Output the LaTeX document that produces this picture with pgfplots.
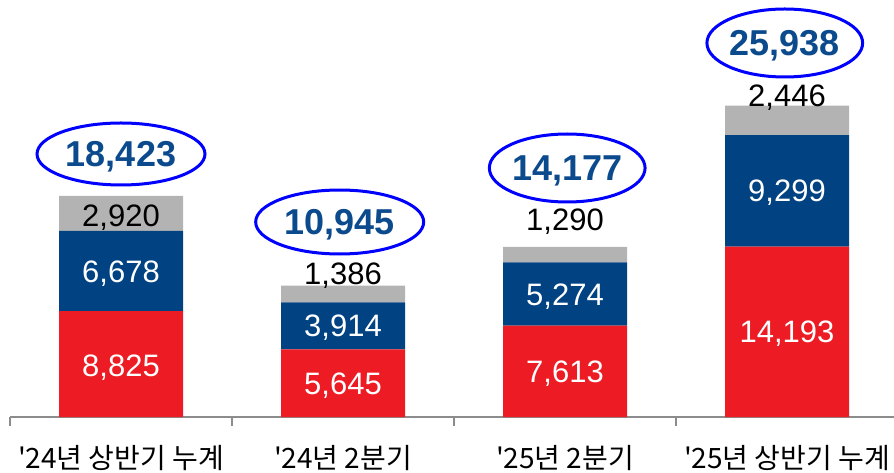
\documentclass[border=0pt]{standalone}
\usepackage{fontspec}
\setmainfont{Liberation Sans}
\newfontfamily\cjk[Ligatures=TeXOff]{Noto Sans CJK KR}
\usepackage{pgfplots}
\pgfplotsset{compat=1.18}
\usetikzlibrary{shapes.geometric}
\definecolor{cred}{HTML}{ED1C24}
\definecolor{cnavy}{HTML}{004282}
\definecolor{cgray}{HTML}{B3B3B3}
\definecolor{ctot}{HTML}{0B4A8C}
\definecolor{cax}{HTML}{8C8C8C}
\tikzset{
  lab/.style={font=\fontsize{31}{31}\selectfont, inner sep=0pt, text height=22pt, text depth=0pt, anchor=center},
  tot/.style={draw=blue, line width=3pt, ellipse, inner sep=0pt, text=ctot,
     font=\bfseries\fontsize{36}{36}\selectfont, text height=26pt, text depth=0pt},
}
\pgfplotsset{
  base/.style={
    at={(10pt,55pt)}, anchor=south west,
    scale only axis, width=888pt, height=417pt,
    xmin=-0.5, xmax=3.5, ymin=0, ymax=34750, clip=false,
  }
}
\begin{document}
\begin{tikzpicture}
\begin{axis}[
  base,
  ybar stacked, bar width=124pt,
  axis x line=bottom, axis y line=none,
  axis line style={draw=cax, line width=1.5pt, -},
  xtick={0,1,2,3},
  xticklabels={{'24년 상반기 누계},{'24년 2분기},{'25년 2분기},{'25년 상반기 누계}},
  major tick length=0pt,
  minor xtick={-0.5,0.5,1.5,2.5,3.5}, minor tick length=9pt, tick align=outside,
  minor tick style={draw=cax, line width=1.2pt},
  xticklabel style={font=\cjk\fontsize{28}{28}\selectfont, yshift=-25pt},
]
\addplot[fill=cred, draw=none] coordinates {(0,8825) (1,5645) (2,7613) (3,14193)};
\addplot[fill=cnavy, draw=none] coordinates {(0,6678) (1,3914) (2,5274) (3,9299)};
\addplot[fill=cgray, draw=none] coordinates {(0,2920) (1,1386) (2,1290) (3,2446)};
\end{axis}
\begin{axis}[base, axis lines=none, xtick=\empty, ytick=\empty]
% segment labels
\node[lab, text=white] at (axis cs:0,4300) {8,825};
\node[lab, text=white] at (axis cs:1,2822) {5,645};
\node[lab, text=white] at (axis cs:2,3806) {7,613};
\node[lab, text=white] at (axis cs:3,7096) {14,193};
\node[lab, text=white] at (axis cs:0,12164) {6,678};
\node[lab, text=white] at (axis cs:1,7602) {3,914};
\node[lab, text=white] at (axis cs:2,10250) {5,274};
\node[lab, text=white] at (axis cs:3,18842) {9,299};
\node[lab, text=black] at (axis cs:0,16800) {2,920};
\node[lab, text=black] at (axis cs:1,12000) {1,386};
\node[lab, text=black] at (axis cs:2,16417) {1,290};
\node[lab, text=black] at (axis cs:3,26833) {2,446};
% totals
\node[tot, minimum width=168pt, minimum height=62pt] at (axis cs:0,21917) {18,423};
\node[tot, minimum width=168pt, minimum height=64pt] at (axis cs:0.985,16250) {10,945};
\node[tot, minimum width=153pt, minimum height=68pt] at (axis cs:2.01,20750) {14,177};
\node[tot, minimum width=153pt, minimum height=68pt] at (axis cs:2.99,31167) {25,938};
\end{axis}
\pgfresetboundingbox
\useasboundingbox (0,0) rectangle (894pt,472pt);
\end{tikzpicture}
\end{document}
